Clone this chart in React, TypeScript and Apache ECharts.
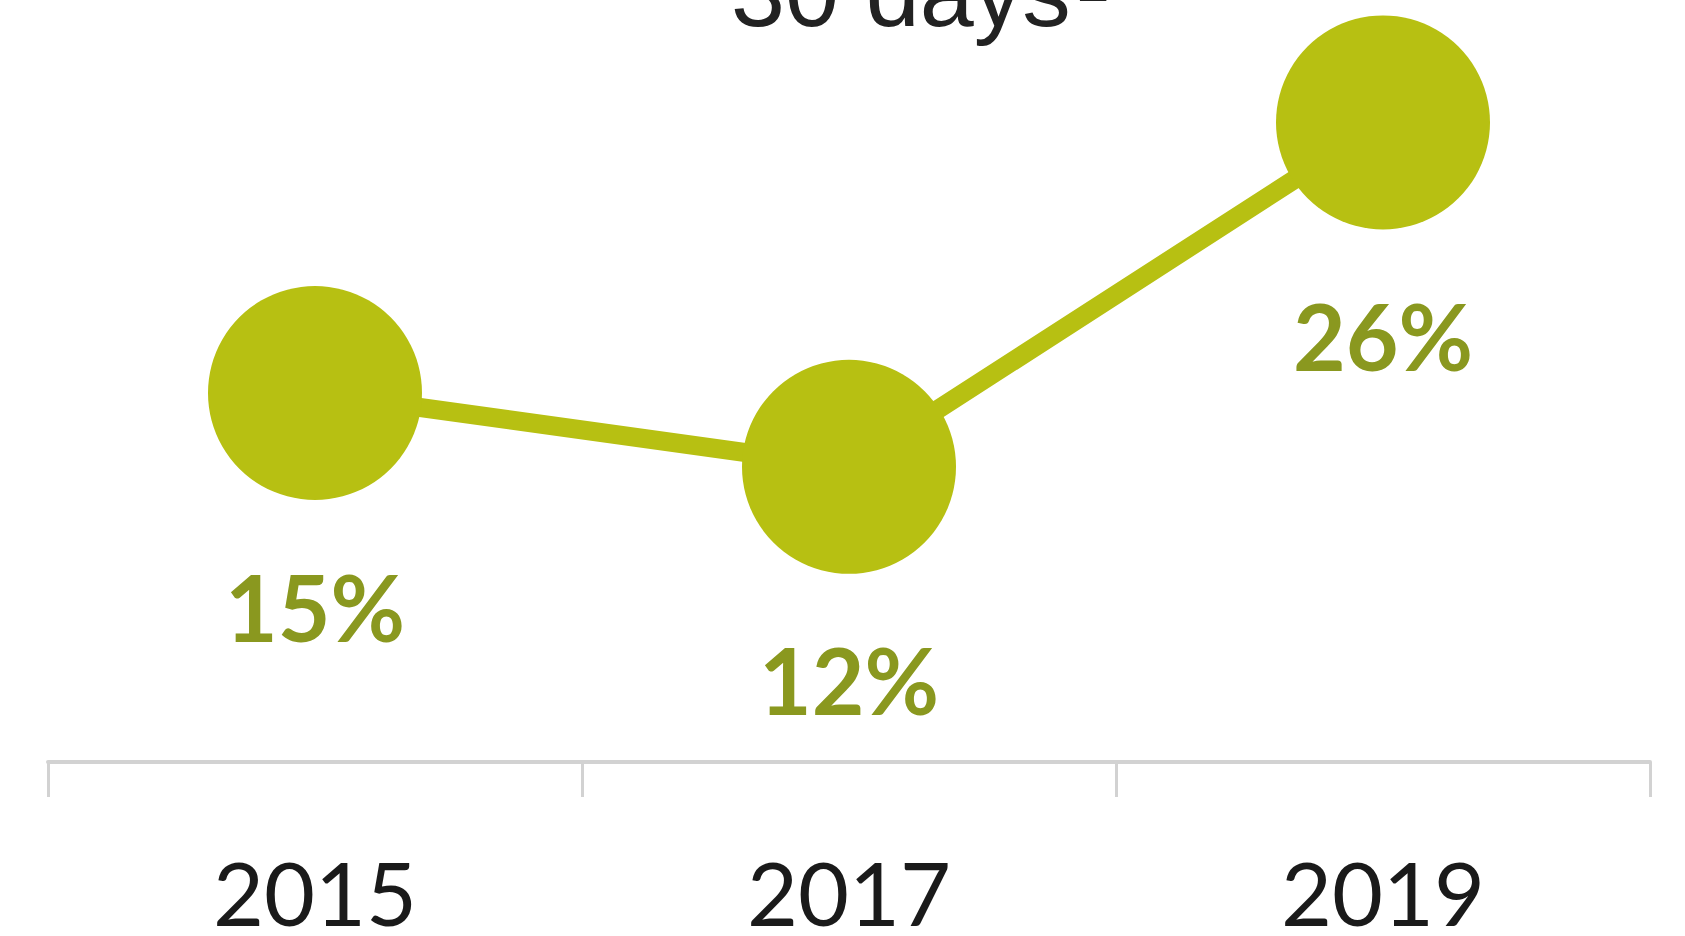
import React, { useEffect, useRef } from "react";
import * as echarts from "echarts";

const categories = ["2015", "2017", "2019"];
const shareValues = [15, 12, 26];
const titleText = "30 days";
const titleNote = "2";

const GREEN = "#b7c012";
const LABEL_GREEN = "#8a981f";

export default function App() {
  const ref = useRef<HTMLDivElement>(null);

  useEffect(() => {
    if (!ref.current) return;
    const chart = echarts.init(ref.current, null, { renderer: "svg" });
    chart.setOption({
      animation: false,
      backgroundColor: "#ffffff",
      grid: { left: 48, right: 35, top: 24, bottom: 174 },
      xAxis: {
        type: "category",
        data: categories,
        boundaryGap: true,
        axisLine: { show: true, lineStyle: { color: "#d2d2d2", width: 4 } },
        axisTick: {
          show: true,
          alignWithLabel: false,
          length: 35,
          lineStyle: { color: "#d2d2d2", width: 3 },
        },
        axisLabel: {
          margin: 86,
          fontFamily: "Lato",
          fontSize: 88,
          color: "#1a1a1a",
        },
        splitLine: { show: false },
      },
      yAxis: {
        type: "value",
        min: 0,
        max: 30,
        show: false,
        splitLine: { show: false },
      },
      series: [
        {
          type: "line",
          data: shareValues,
          symbol: "circle",
          symbolSize: 214,
          clip: false,
          lineStyle: { color: GREEN, width: 19 },
          itemStyle: { color: GREEN },
          label: {
            show: true,
            position: "inside",
            offset: [0, 213],
            formatter: "{c}%",
            fontFamily: "Lato",
            fontWeight: "bold",
            fontSize: 91,
            color: LABEL_GREEN,
          },
        },
      ],
      graphic: [
        {
          type: "text",
          left: 731,
          top: -56,
          style: {
            text: titleText,
            fontFamily: "Liberation Sans",
            fontSize: 97,
            fill: "#222222",
          },
        },
        {
          type: "text",
          left: 1077,
          top: -49,
          style: {
            text: titleNote,
            fontFamily: "Liberation Sans",
            fontSize: 58,
            fill: "#222222",
          },
        },
      ],
    });
    return () => chart.dispose();
  }, []);

  return (
    <div
      ref={ref}
      style={{ position: "absolute", left: 0, top: 0, width: 1685, height: 936 }}
    />
  );
}
